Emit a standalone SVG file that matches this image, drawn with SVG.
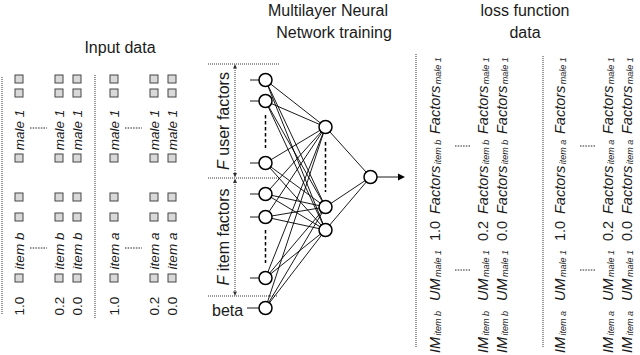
<svg xmlns="http://www.w3.org/2000/svg" width="640" height="355" viewBox="0 0 640 355">
<style>
text{font-family:"Liberation Sans",Arial,sans-serif;fill:#1a1a1a}
.title{font-size:16px;text-anchor:middle}
.lt{font-size:13.5px;text-anchor:middle}
.it{font-style:italic}
.m{font-size:14.5px;font-style:italic}
.s{font-size:9px;font-style:italic}
.v{font-size:14.5px}
.net{font-size:16px}
.dot{stroke:#333;stroke-width:1;stroke-dasharray:1 1;fill:none}
.ell{stroke:#222;stroke-width:1;stroke-dasharray:1.5 1.2;fill:none}
.box{fill:#d9d9d9;stroke:#444;stroke-width:1}
.edge{stroke:#000;stroke-width:0.9}
.node{fill:#fff;stroke:#000;stroke-width:1.5}
.dash{stroke:#000;stroke-width:1.5;stroke-dasharray:3.5 2.5}
</style>
<defs>
<g id="lcol">
<rect class="box" x="-4" y="274" width="8" height="8"/>
<rect class="box" x="-4" y="213" width="8" height="8"/>
<rect class="box" x="-4" y="193" width="8" height="8"/>
<rect class="box" x="-4" y="154" width="8" height="8"/>
<rect class="box" x="-4" y="89" width="8" height="8"/>
<rect class="box" x="-4" y="75" width="8" height="8"/>
<text class="lt it" transform="translate(5,130) rotate(-90)">male 1</text>
</g>
</defs>

<g id="titles">
<text class="title" x="120" y="53">Input data</text>
<text class="title" x="328" y="16">Multilayer Neural</text>
<text class="title" x="334" y="38">Network training</text>
<text class="title" x="525" y="16">loss function</text>
<text class="title" x="525" y="38">data</text>
</g>

<g id="input-data">
<line class="dot" x1="2" y1="77" x2="2" y2="315"/>
<line class="dot" x1="95" y1="75" x2="95" y2="318"/>
<g id="input-b-row1" transform="translate(19,0)"><use href="#lcol"/><text class="lt" transform="translate(5,306) rotate(-90)">1.0</text><text class="lt it" transform="translate(5,251) rotate(-90)">item b</text></g>
<g id="input-b-row2" transform="translate(59,0)"><use href="#lcol"/><text class="lt" transform="translate(5,306) rotate(-90)">0.2</text><text class="lt it" transform="translate(5,251) rotate(-90)">item b</text></g>
<g id="input-b-row3" transform="translate(77,0)"><use href="#lcol"/><text class="lt" transform="translate(5,306) rotate(-90)">0.0</text><text class="lt it" transform="translate(5,251) rotate(-90)">item b</text></g>
<g id="input-a-row1" transform="translate(114,0)"><use href="#lcol"/><text class="lt" transform="translate(5,306) rotate(-90)">1.0</text><text class="lt it" transform="translate(5,251) rotate(-90)">item a</text></g>
<g id="input-a-row2" transform="translate(154,0)"><use href="#lcol"/><text class="lt" transform="translate(5,306) rotate(-90)">0.2</text><text class="lt it" transform="translate(5,251) rotate(-90)">item a</text></g>
<g id="input-a-row3" transform="translate(172,0)"><use href="#lcol"/><text class="lt" transform="translate(5,306) rotate(-90)">0.0</text><text class="lt it" transform="translate(5,251) rotate(-90)">item a</text></g>
<line class="ell" x1="30" y1="128" x2="47" y2="128"/>
<line class="ell" x1="30" y1="248" x2="47" y2="248"/>
<line class="ell" x1="125" y1="128" x2="142" y2="128"/>
<line class="ell" x1="125" y1="248" x2="142" y2="248"/>
</g>

<g id="factor-labels">
<line class="dot" x1="208" y1="64" x2="280" y2="64"/>
<line class="dot" x1="208" y1="178" x2="280" y2="178"/>
<line class="dot" x1="208" y1="296" x2="278" y2="296"/>
<line class="dot" x1="235" y1="66" x2="235" y2="176"/>
<line class="dot" x1="235" y1="180" x2="235" y2="294"/>
<polygon points="235,64 233,68.5 237,68.5" fill="#333"/>
<polygon points="235,177.5 233,173 237,173" fill="#333"/>
<polygon points="235,178.5 233,183 237,183" fill="#333"/>
<polygon points="235,296 233,291.5 237,291.5" fill="#333"/>
<text class="net" transform="translate(229,121) rotate(-90)" text-anchor="middle"><tspan font-style="italic">F</tspan> user factors</text>
<text class="net" transform="translate(229,237) rotate(-90)" text-anchor="middle"><tspan font-style="italic">F</tspan> item factors</text>
<text class="net" x="212" y="316">beta</text>
</g>

<g id="connectors">
<line class="edge" x1="250" y1="80" x2="259" y2="80"/>
<line class="edge" x1="250" y1="101" x2="259" y2="101"/>
<line class="edge" x1="250" y1="163" x2="259" y2="163"/>
<line class="edge" x1="250" y1="194" x2="259" y2="194"/>
<line class="edge" x1="250" y1="217" x2="259" y2="217"/>
<line class="edge" x1="250" y1="278" x2="259" y2="278"/>
<line class="edge" x1="247" y1="308" x2="259" y2="308"/>
<g class="edge">
<line x1="265.5" y1="80" x2="325.5" y2="127"/><line x1="265.5" y1="80" x2="325.5" y2="207"/><line x1="265.5" y1="80" x2="325.5" y2="230"/>
<line x1="265.5" y1="101" x2="325.5" y2="127"/><line x1="265.5" y1="101" x2="325.5" y2="207"/><line x1="265.5" y1="101" x2="325.5" y2="230"/>
<line x1="265.5" y1="163" x2="325.5" y2="127"/><line x1="265.5" y1="163" x2="325.5" y2="207"/><line x1="265.5" y1="163" x2="325.5" y2="230"/>
<line x1="265.5" y1="194" x2="325.5" y2="127"/><line x1="265.5" y1="194" x2="325.5" y2="207"/><line x1="265.5" y1="194" x2="325.5" y2="230"/>
<line x1="265.5" y1="217" x2="325.5" y2="127"/><line x1="265.5" y1="217" x2="325.5" y2="207"/><line x1="265.5" y1="217" x2="325.5" y2="230"/>
<line x1="265.5" y1="278" x2="325.5" y2="127"/><line x1="265.5" y1="278" x2="325.5" y2="207"/><line x1="265.5" y1="278" x2="325.5" y2="230"/>
<line x1="265.5" y1="308" x2="325.5" y2="127"/><line x1="265.5" y1="308" x2="325.5" y2="207"/><line x1="265.5" y1="308" x2="325.5" y2="230"/>
<line x1="325.5" y1="127" x2="370.5" y2="177"/><line x1="325.5" y1="207" x2="370.5" y2="177"/><line x1="325.5" y1="230" x2="370.5" y2="177"/>
<line x1="377" y1="177" x2="399" y2="177"/>
</g>
<polygon points="405,177 398,173.5 398,180.5" fill="#000"/>
<line class="dash" x1="265.5" y1="115" x2="265.5" y2="148"/>
<line class="dash" x1="265.5" y1="230" x2="265.5" y2="263"/>
<line class="dash" x1="325.5" y1="142" x2="325.5" y2="192"/>
</g>

<g id="input-nodes">
<circle class="node" cx="265.5" cy="80" r="6.5"/>
<circle class="node" cx="265.5" cy="101" r="6.5"/>
<circle class="node" cx="265.5" cy="163" r="6.5"/>
<circle class="node" cx="265.5" cy="194" r="6.5"/>
<circle class="node" cx="265.5" cy="217" r="6.5"/>
<circle class="node" cx="265.5" cy="278" r="6.5"/>
<circle class="node" cx="265.5" cy="308" r="6.5"/>
</g>
<g id="hidden-nodes">
<circle class="node" cx="325.5" cy="127" r="6.5"/>
<circle class="node" cx="325.5" cy="207" r="6.5"/>
<circle class="node" cx="325.5" cy="230" r="6.5"/>
</g>
<g id="output-node">
<circle class="node" cx="370.5" cy="177" r="6.5"/>
</g>

<g id="loss-data">
<line class="dot" x1="416" y1="54" x2="416" y2="348"/>
<line class="dot" x1="543" y1="56" x2="543" y2="348"/>
<g id="loss-b-row1" transform="translate(440,0)">
<text transform="translate(0,353) rotate(-90)"><tspan class="m">IM</tspan><tspan class="s" dx="1.5" dy="1">item b</tspan></text>
<text transform="translate(0,301) rotate(-90)"><tspan class="m">UM</tspan><tspan class="s" dx="1.5" dy="1">male 1</tspan></text>
<text class="v" transform="translate(0,241) rotate(-90)">1.0</text>
<text transform="translate(0,214) rotate(-90)"><tspan class="m">Factors</tspan><tspan class="s" dx="1.5" dy="1">item b</tspan></text>
<text transform="translate(0,134) rotate(-90)"><tspan class="m">Factors</tspan><tspan class="s" dx="1.5" dy="1">male 1</tspan></text>
</g>
<g id="loss-b-row2" transform="translate(488,0)">
<text transform="translate(0,353) rotate(-90)"><tspan class="m">IM</tspan><tspan class="s" dx="1.5" dy="1">item b</tspan></text>
<text transform="translate(0,301) rotate(-90)"><tspan class="m">UM</tspan><tspan class="s" dx="1.5" dy="1">male 1</tspan></text>
<text class="v" transform="translate(0,241) rotate(-90)">0.2</text>
<text transform="translate(0,214) rotate(-90)"><tspan class="m">Factors</tspan><tspan class="s" dx="1.5" dy="1">item b</tspan></text>
<text transform="translate(0,134) rotate(-90)"><tspan class="m">Factors</tspan><tspan class="s" dx="1.5" dy="1">male 1</tspan></text>
</g>
<g id="loss-b-row3" transform="translate(507,0)">
<text transform="translate(0,353) rotate(-90)"><tspan class="m">IM</tspan><tspan class="s" dx="1.5" dy="1">item b</tspan></text>
<text transform="translate(0,301) rotate(-90)"><tspan class="m">UM</tspan><tspan class="s" dx="1.5" dy="1">male 1</tspan></text>
<text class="v" transform="translate(0,241) rotate(-90)">0.0</text>
<text transform="translate(0,214) rotate(-90)"><tspan class="m">Factors</tspan><tspan class="s" dx="1.5" dy="1">item b</tspan></text>
<text transform="translate(0,134) rotate(-90)"><tspan class="m">Factors</tspan><tspan class="s" dx="1.5" dy="1">male 1</tspan></text>
</g>
<g id="loss-a-row1" transform="translate(565,0)">
<text transform="translate(0,353) rotate(-90)"><tspan class="m">IM</tspan><tspan class="s" dx="1.5" dy="1">item a</tspan></text>
<text transform="translate(0,301) rotate(-90)"><tspan class="m">UM</tspan><tspan class="s" dx="1.5" dy="1">male 1</tspan></text>
<text class="v" transform="translate(0,241) rotate(-90)">1.0</text>
<text transform="translate(0,214) rotate(-90)"><tspan class="m">Factors</tspan><tspan class="s" dx="1.5" dy="1">item a</tspan></text>
<text transform="translate(0,134) rotate(-90)"><tspan class="m">Factors</tspan><tspan class="s" dx="1.5" dy="1">male 1</tspan></text>
</g>
<g id="loss-a-row2" transform="translate(613,0)">
<text transform="translate(0,353) rotate(-90)"><tspan class="m">IM</tspan><tspan class="s" dx="1.5" dy="1">item a</tspan></text>
<text transform="translate(0,301) rotate(-90)"><tspan class="m">UM</tspan><tspan class="s" dx="1.5" dy="1">male 1</tspan></text>
<text class="v" transform="translate(0,241) rotate(-90)">0.2</text>
<text transform="translate(0,214) rotate(-90)"><tspan class="m">Factors</tspan><tspan class="s" dx="1.5" dy="1">item a</tspan></text>
<text transform="translate(0,134) rotate(-90)"><tspan class="m">Factors</tspan><tspan class="s" dx="1.5" dy="1">male 1</tspan></text>
</g>
<g id="loss-a-row3" transform="translate(632,0)">
<text transform="translate(0,353) rotate(-90)"><tspan class="m">IM</tspan><tspan class="s" dx="1.5" dy="1">item a</tspan></text>
<text transform="translate(0,301) rotate(-90)"><tspan class="m">UM</tspan><tspan class="s" dx="1.5" dy="1">male 1</tspan></text>
<text class="v" transform="translate(0,241) rotate(-90)">0.0</text>
<text transform="translate(0,214) rotate(-90)"><tspan class="m">Factors</tspan><tspan class="s" dx="1.5" dy="1">item a</tspan></text>
<text transform="translate(0,134) rotate(-90)"><tspan class="m">Factors</tspan><tspan class="s" dx="1.5" dy="1">male 1</tspan></text>
</g>
<line class="ell" x1="455" y1="270" x2="470" y2="270"/>
<line class="ell" x1="455" y1="146" x2="470" y2="146"/>
<line class="ell" x1="580" y1="270" x2="595" y2="270"/>
<line class="ell" x1="580" y1="146" x2="595" y2="146"/>
</g>
</svg>
